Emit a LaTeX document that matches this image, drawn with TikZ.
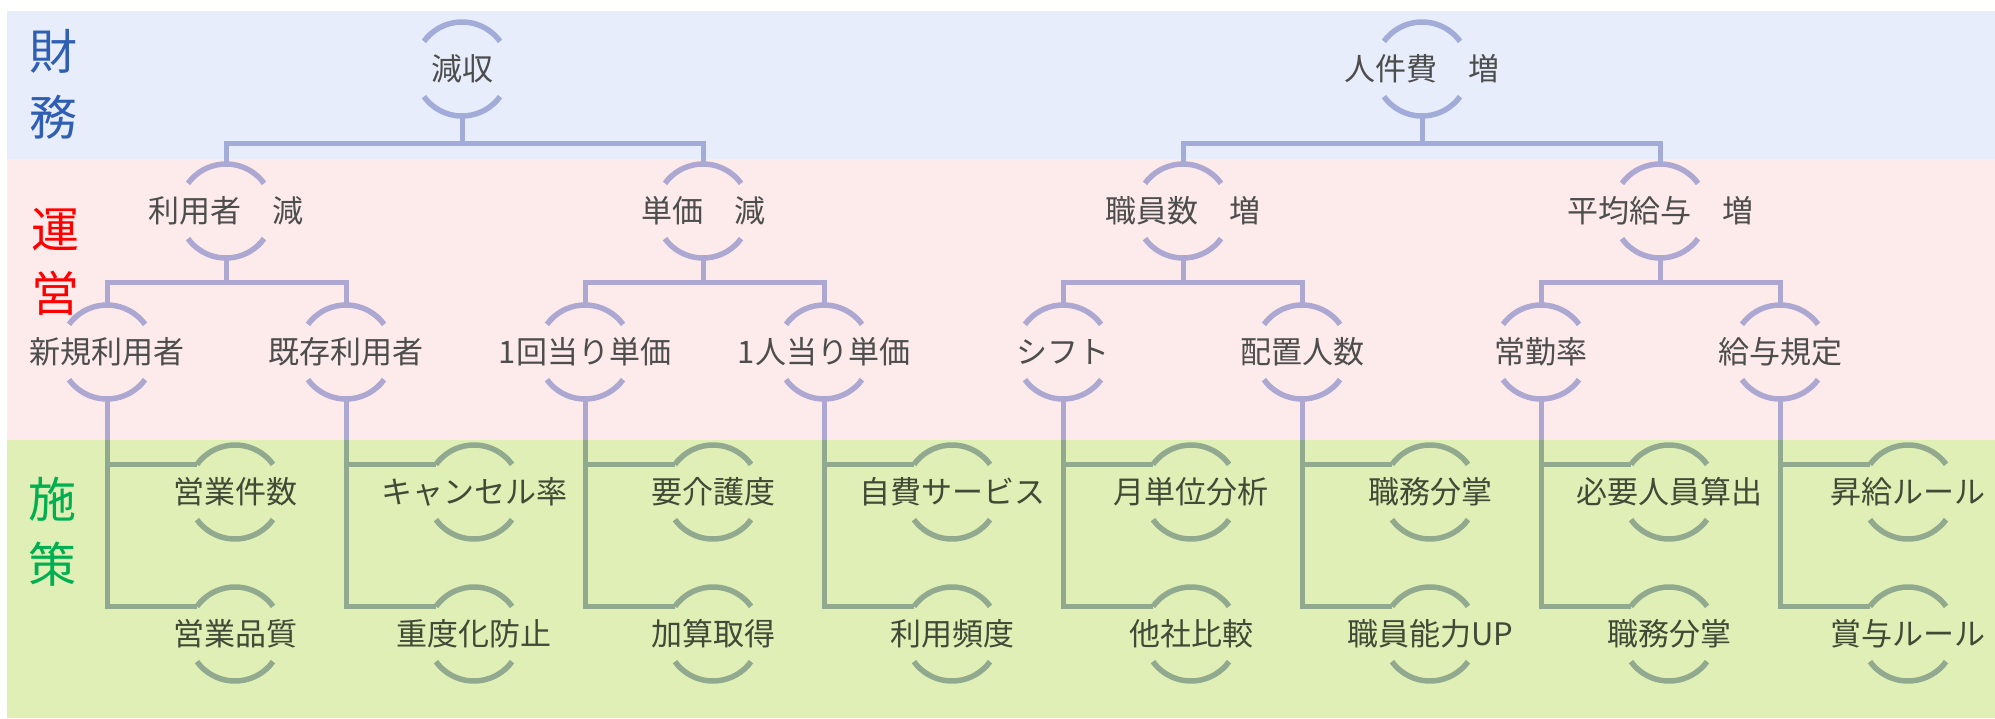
\documentclass[tikz,border=0pt]{standalone}
\usepackage{fontspec}
\setmainfont{Noto Sans CJK JP}
\definecolor{bgB}{HTML}{E8EDFB}
\definecolor{bgP}{HTML}{FDEBEB}
\definecolor{bgG}{HTML}{E0EFB6}
\definecolor{lnB}{HTML}{A3ACD9}
\definecolor{lnP}{HTML}{ACA8D2}
\definecolor{lnG}{HTML}{91A98F}
\definecolor{txA}{HTML}{4D4D4D}
\definecolor{txG}{HTML}{404A36}
\definecolor{labB}{HTML}{2F5FB3}
\definecolor{labR}{HTML}{FF0000}
\definecolor{labG}{HTML}{00B050}
\newcommand\nt[1]{\makebox[0pt]{#1}}
\newcommand\twoarcs[2]{\draw[#2] (#1.36) arc[start angle=36,end angle=144,radius=47pt] (#1.216) arc[start angle=216,end angle=324,radius=47pt];}
\tikzset{
  cn/.style={circle, minimum size=94pt, inner sep=0pt, outer sep=0pt,
    text height=27pt, text depth=4pt, font=\fontsize{31pt}{36pt}\selectfont},
  cnA/.style={cn, text=txA},
  cnG/.style={cn, text=txG},
  lab/.style={inner sep=0pt, text height=40pt, text depth=6pt, font=\fontsize{48pt}{56pt}\selectfont},
  arcB/.style={lnB, line width=5.5pt},
  arcP/.style={lnP, line width=5.5pt},
  arcG/.style={lnG, line width=5.5pt},
  cB/.style={lnB, line width=5pt},
  cP/.style={lnP, line width=5pt},
  cG/.style={lnG, line width=5pt},
}
\begin{document}
\begin{tikzpicture}[x=1pt,y=1pt]
\useasboundingbox (0,0) rectangle (1995,-718);
\fill[white] (0,0) rectangle (1995,-718);
\fill[bgB] (7,-11) rectangle (1995,-159);
\fill[bgP] (7,-159) rectangle (1995,-440);
\fill[bgG] (7,-440) rectangle (1995,-718);

% band labels
\node[lab, text=labB] (l1) at (53,-52) {財};
\node[lab, text=labB] (l2) at (53,-118) {務};
\node[lab, text=labR] (l3) at (55,-230) {運};
\node[lab, text=labR] (l4) at (55,-294) {営};
\node[lab, text=labG] (l5) at (52,-500) {施};
\node[lab, text=labG] (l6) at (52,-565) {策};

% level 1
\node[cnA] (A) at (462,-69) {\nt{減収}};
\node[cnA] (B) at (1422,-69) {\nt{人件費　増}};
\twoarcs{A}{arcB}
\twoarcs{B}{arcB}

% level 2
\node[cnA] (A1) at (226,-211) {\nt{利用者　減}};
\node[cnA] (A2) at (703,-211) {\nt{単価　減}};
\node[cnA] (B1) at (1183,-211) {\nt{職員数　増}};
\node[cnA] (B2) at (1660,-211) {\nt{平均給与　増}};
\foreach \n in {A1,A2,B1,B2} {\twoarcs{\n}{arcP}}

% level 1 connectors
\foreach \p/\c/\d in {A/A1/A2, B/B1/B2} {
  \path (\p.south) ++(0,-27) coordinate (\p bar);
  \draw[cB] (\p.south) -- (\p bar) -| (\c.north);
  \draw[cB] (\p bar) -| (\d.north);
}

% level 3 and 4
\foreach \n/\x/\t/\u/\v in {
  s1/107/新規利用者/営業件数/営業品質,
  s2/346/既存利用者/キャンセル率/重度化防止,
  s3/585/1回当り単価/要介護度/加算取得,
  s4/824/1人当り単価/自費サービス/利用頻度,
  s5/1063/シフト/月単位分析/他社比較,
  s6/1302/配置人数/職務分掌/職員能力UP,
  s7/1541/常勤率/必要人員算出/職務分掌,
  s8/1780/給与規定/昇給ルール/賞与ルール} {
  \node[cnA] (\n) at (\x,-352) {\nt{\t}};
  \twoarcs{\n}{arcP}
  \node[cnG] (\n a) at (\x+128,-492) {\nt{\u}};
  \node[cnG] (\n b) at (\x+128,-634) {\nt{\v}};
  \twoarcs{\n a}{arcG}
  \twoarcs{\n b}{arcG}
  \path (\n.south) ++(0,-41) coordinate (\n m);
  \draw[cP] (\n.south) -- (\n m);
  \draw[cG] (\n m) |- (\n a.144);
  \draw[cG] (\n m) |- (\n b.144);
}

% level 2 connectors
\foreach \p/\c/\d in {A1/s1/s2, A2/s3/s4, B1/s5/s6, B2/s7/s8} {
  \path (\p.south) ++(0,-24) coordinate (\p bar);
  \draw[cP] (\p.south) -- (\p bar) -| (\c.north);
  \draw[cP] (\p bar) -| (\d.north);
}
\end{tikzpicture}
\end{document}
